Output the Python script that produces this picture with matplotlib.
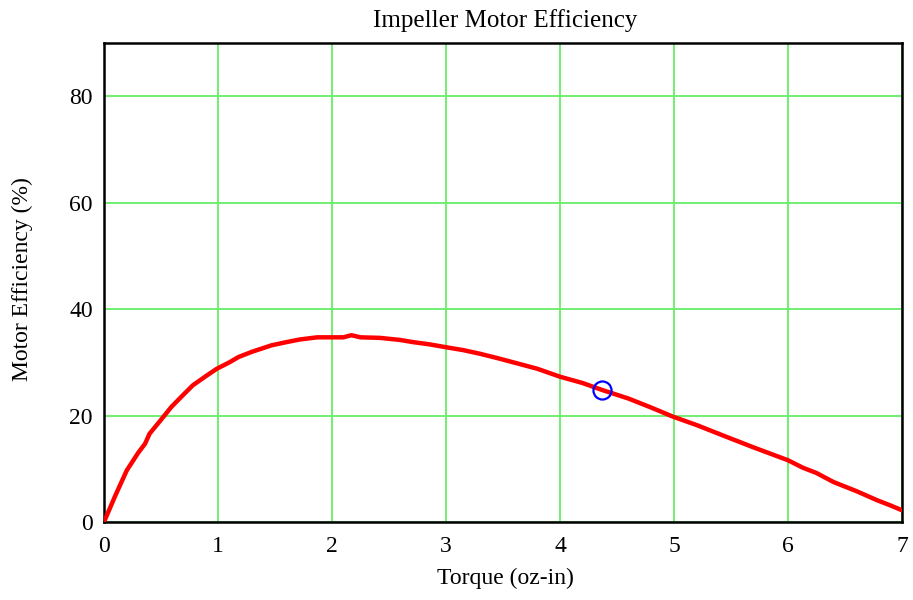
import numpy as np
from matplotlib import pyplot as plt

# torque (oz-in) vs motor efficiency (%)
torque = [0, 0.1, 0.2, 0.3, 0.36, 0.4, 0.5, 0.59, 0.7, 0.78, 0.9, 0.99, 1.1, 1.18,
          1.3, 1.47, 1.6, 1.72, 1.87, 2.0, 2.1, 2.17, 2.25, 2.42, 2.6, 2.71, 2.85,
          3.01, 3.15, 3.3, 3.45, 3.59, 3.8, 4.0, 4.2, 4.37, 4.6, 4.8, 4.99, 5.2,
          5.46, 5.7, 6.0, 6.13, 6.25, 6.4, 6.6, 6.78, 6.9, 7.0]
efficiency = [0, 5.0, 9.7, 13.0, 14.7, 16.6, 19.2, 21.6, 24.0, 25.7, 27.5, 28.8,
              30.0, 31.0, 32.0, 33.2, 33.8, 34.3, 34.7, 34.7, 34.7, 35.1, 34.7,
              34.6, 34.2, 33.8, 33.4, 32.8, 32.3, 31.6, 30.8, 30.0, 28.8, 27.3,
              26.1, 24.8, 23.2, 21.5, 19.8, 18.2, 16.0, 14.0, 11.6, 10.2, 9.2,
              7.5, 5.8, 4.1, 3.1, 2.2]

op_torque = [4.37]
op_eff = [24.8]

plt.rcParams['font.family'] = ['Liberation Serif', 'DejaVu Serif']

fig = plt.figure(figsize=(9.13, 6), dpi=100)
ax = fig.add_axes([0.1139, 0.13, 0.8741, 0.7983])

ax.plot(torque, efficiency, color='red', lw=3.2, solid_capstyle='round', zorder=3)
ax.plot(op_torque, op_eff, 'o', mfc='none', mec='blue', ms=13, mew=1.6, zorder=4)

ax.set_xlim(0, 7)
ax.set_ylim(0, 90)
ax.set_xticks(range(0, 8))
ax.set_yticks([0, 20, 40, 60, 80])
ax.grid(True, color='#66ee66', lw=1.3)
ax.set_axisbelow(True)
ax.tick_params(length=0, labelsize=17)
ax.tick_params(axis='y', pad=8)
ax.tick_params(axis='x', pad=10)
for s in ax.spines.values():
    s.set_linewidth(1.8)

fig.text(0.553, 0.965, 'Impeller Motor Efficiency', fontsize=18, ha='center', va='center')
fig.text(0.554, 0.036, 'Torque (oz-in)', fontsize=17, ha='center', va='center')
fig.text(0.024, 0.535, 'Motor Efficiency (%)', fontsize=17, ha='center', va='center',
         rotation=90)

fig.savefig('out.png', dpi=100)
